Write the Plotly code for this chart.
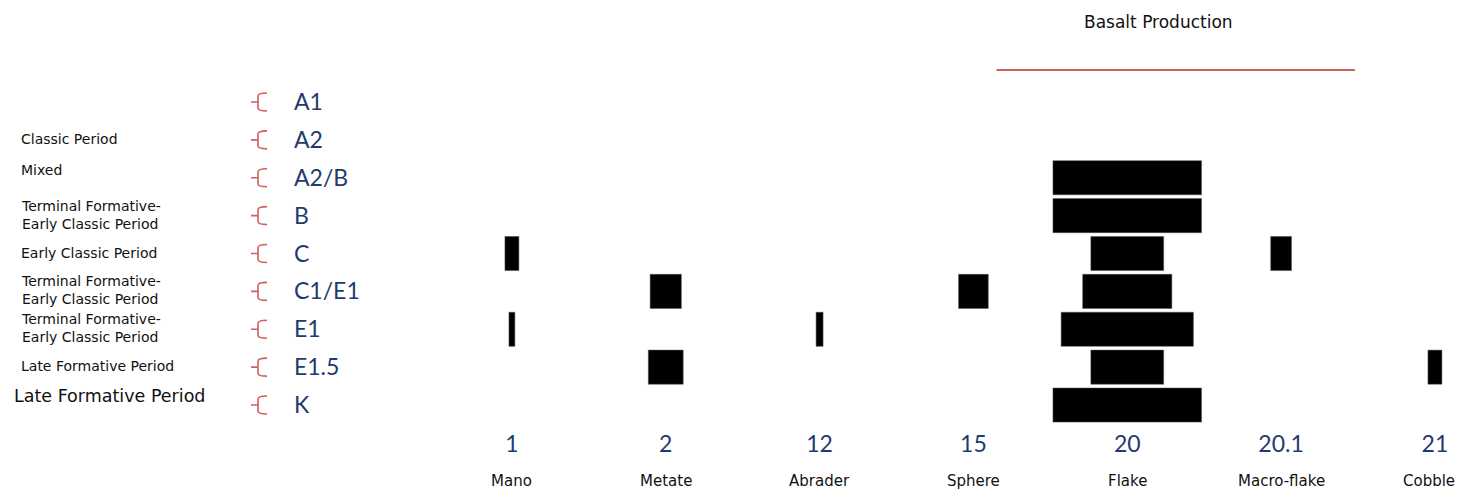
import plotly.graph_objects as go

# ---- data ----
codes = ["1", "2", "12", "15", "20", "20.1", "21"]
tools = ["Mano", "Metate", "Abrader", "Sphere", "Flake", "Macro-flake", "Cobble"]
units = ["A1", "A2", "A2/B", "B", "C", "C1/E1", "E1", "E1.5", "K"]
periods = ["", "Classic Period", "Mixed", "Terminal Formative-<br>Early Classic Period",
           "Early Classic Period", "Terminal Formative-<br>Early Classic Period",
           "Terminal Formative-<br>Early Classic Period", "Late Formative Period",
           "Late Formative Period"]

# relative abundance per unit (rows) for each tool (columns); 0 = absent
mano        = [0, 0, 0, 0, 9.4, 0, 4, 0, 0]
metate      = [0, 0, 0, 0, 0, 21, 0, 23.5, 0]
abrader     = [0, 0, 0, 0, 0, 0, 4.7, 0, 0]
sphere      = [0, 0, 0, 0, 0, 20, 0, 0, 0]
flake       = [0, 0, 100, 100, 49, 60, 89, 49, 100]
macro_flake = [0, 0, 0, 0, 14, 0, 0, 0, 0]
cobble      = [0, 0, 0, 0, 0, 0, 0, 9.4, 0]
series = [mano, metate, abrader, sphere, flake, macro_flake, cobble]

group_title = "Basalt Production"

# ---- styling ----
SCALE = 0.00966  # axis units per value unit
NAVY = "#1F3B6E"
RED = "#D0605A"
TXT = "DejaVu Sans, Verdana, sans-serif"

fig = go.Figure()
for ci, vals in enumerate(series):
    xs, bs, ys = [], [], []
    for ri, v in enumerate(vals):
        if v > 0:
            w = v * SCALE
            xs.append(w)
            bs.append(ci - w / 2)
            ys.append(ri)
    fig.add_trace(go.Bar(x=xs, base=bs, y=ys, orientation="h", width=0.9,
                         marker=dict(color="black", line=dict(color="#555", width=0.5)),
                         name=tools[ci], showlegend=False))

OFF = 8  # page body offset
W, H = 1456, 485
ml, mr, mt, mb = 427, 6, 75, 69
pw = W - ml - mr
ph = H - mt - mb

def px_to_paper(px):
    return (px - OFF - ml) / pw

annotations = []
shapes = []
for ri, u in enumerate(units):
    annotations.append(dict(x=px_to_paper(292), y=ri, xref="paper", yref="y", text=u,
                            showarrow=False, xanchor="left", yanchor="middle", yshift=1,
                            font=dict(family="Lato, Open Sans, sans-serif", size=23, color=NAVY)))
    # red bracket marker
    shapes.append(dict(type="path", xref="paper", yref="y", xsizemode="pixel", ysizemode="pixel",
                       xanchor=px_to_paper(258), yanchor=ri,
                       path="M 9,9 Q 0,9 0,6 L 0,-6 Q 0,-9 9,-9 M 0,0 L -7,0",
                       line=dict(color=RED, width=1.6)))
    if periods[ri]:
        big = ri == len(units) - 1
        annotations.append(dict(x=px_to_paper(12 if big else 19), y=ri, xref="paper", yref="y",
                                text=periods[ri], showarrow=False, xanchor="left", yanchor="middle",
                                align="left", yshift=(9 if big else (8 if periods[ri] == "Mixed" else 1)),
                                font=dict(family=TXT, size=(17.5 if big else 14), color="#111")))

for ci, t in enumerate(tools):
    annotations.append(dict(x=ci, y=8.5, xref="x", yref="y", text=t, showarrow=False,
                            xanchor="center", yanchor="middle", yshift=-57,
                            xshift=(-6 if ci == len(tools) - 1 else 0),
                            font=dict(family=TXT, size=15, color="#111")))

annotations.append(dict(x=4.2, y=1, xref="x", yref="paper", text=group_title, showarrow=False,
                        xanchor="center", yanchor="middle", yshift=61,
                        font=dict(family=TXT, size=17, color="#111")))

line_y = 1 + 13 / ph
shapes.append(dict(type="line", xref="x", yref="paper", x0=3.15, x1=5.48, y0=line_y, y1=line_y,
                   line=dict(color=RED, width=2)))

fig.update_layout(
    width=W, height=H, margin=dict(l=ml, r=mr, t=mt, b=mb),
    plot_bgcolor="white", paper_bgcolor="white", barmode="overlay",
    xaxis=dict(range=[-0.5, 6.15], tickmode="array", tickvals=list(range(len(codes))),
               ticktext=codes, showgrid=False, zeroline=False, showline=False, ticks="",
               ticklabelstandoff=4,
               tickfont=dict(family="Lato, Open Sans, sans-serif", size=23, color=NAVY)),
    yaxis=dict(range=[8.5, -0.5], showgrid=False, zeroline=False, showline=False,
               showticklabels=False, ticks=""),
    annotations=annotations, shapes=shapes,
)
fig.write_html("out.html")
